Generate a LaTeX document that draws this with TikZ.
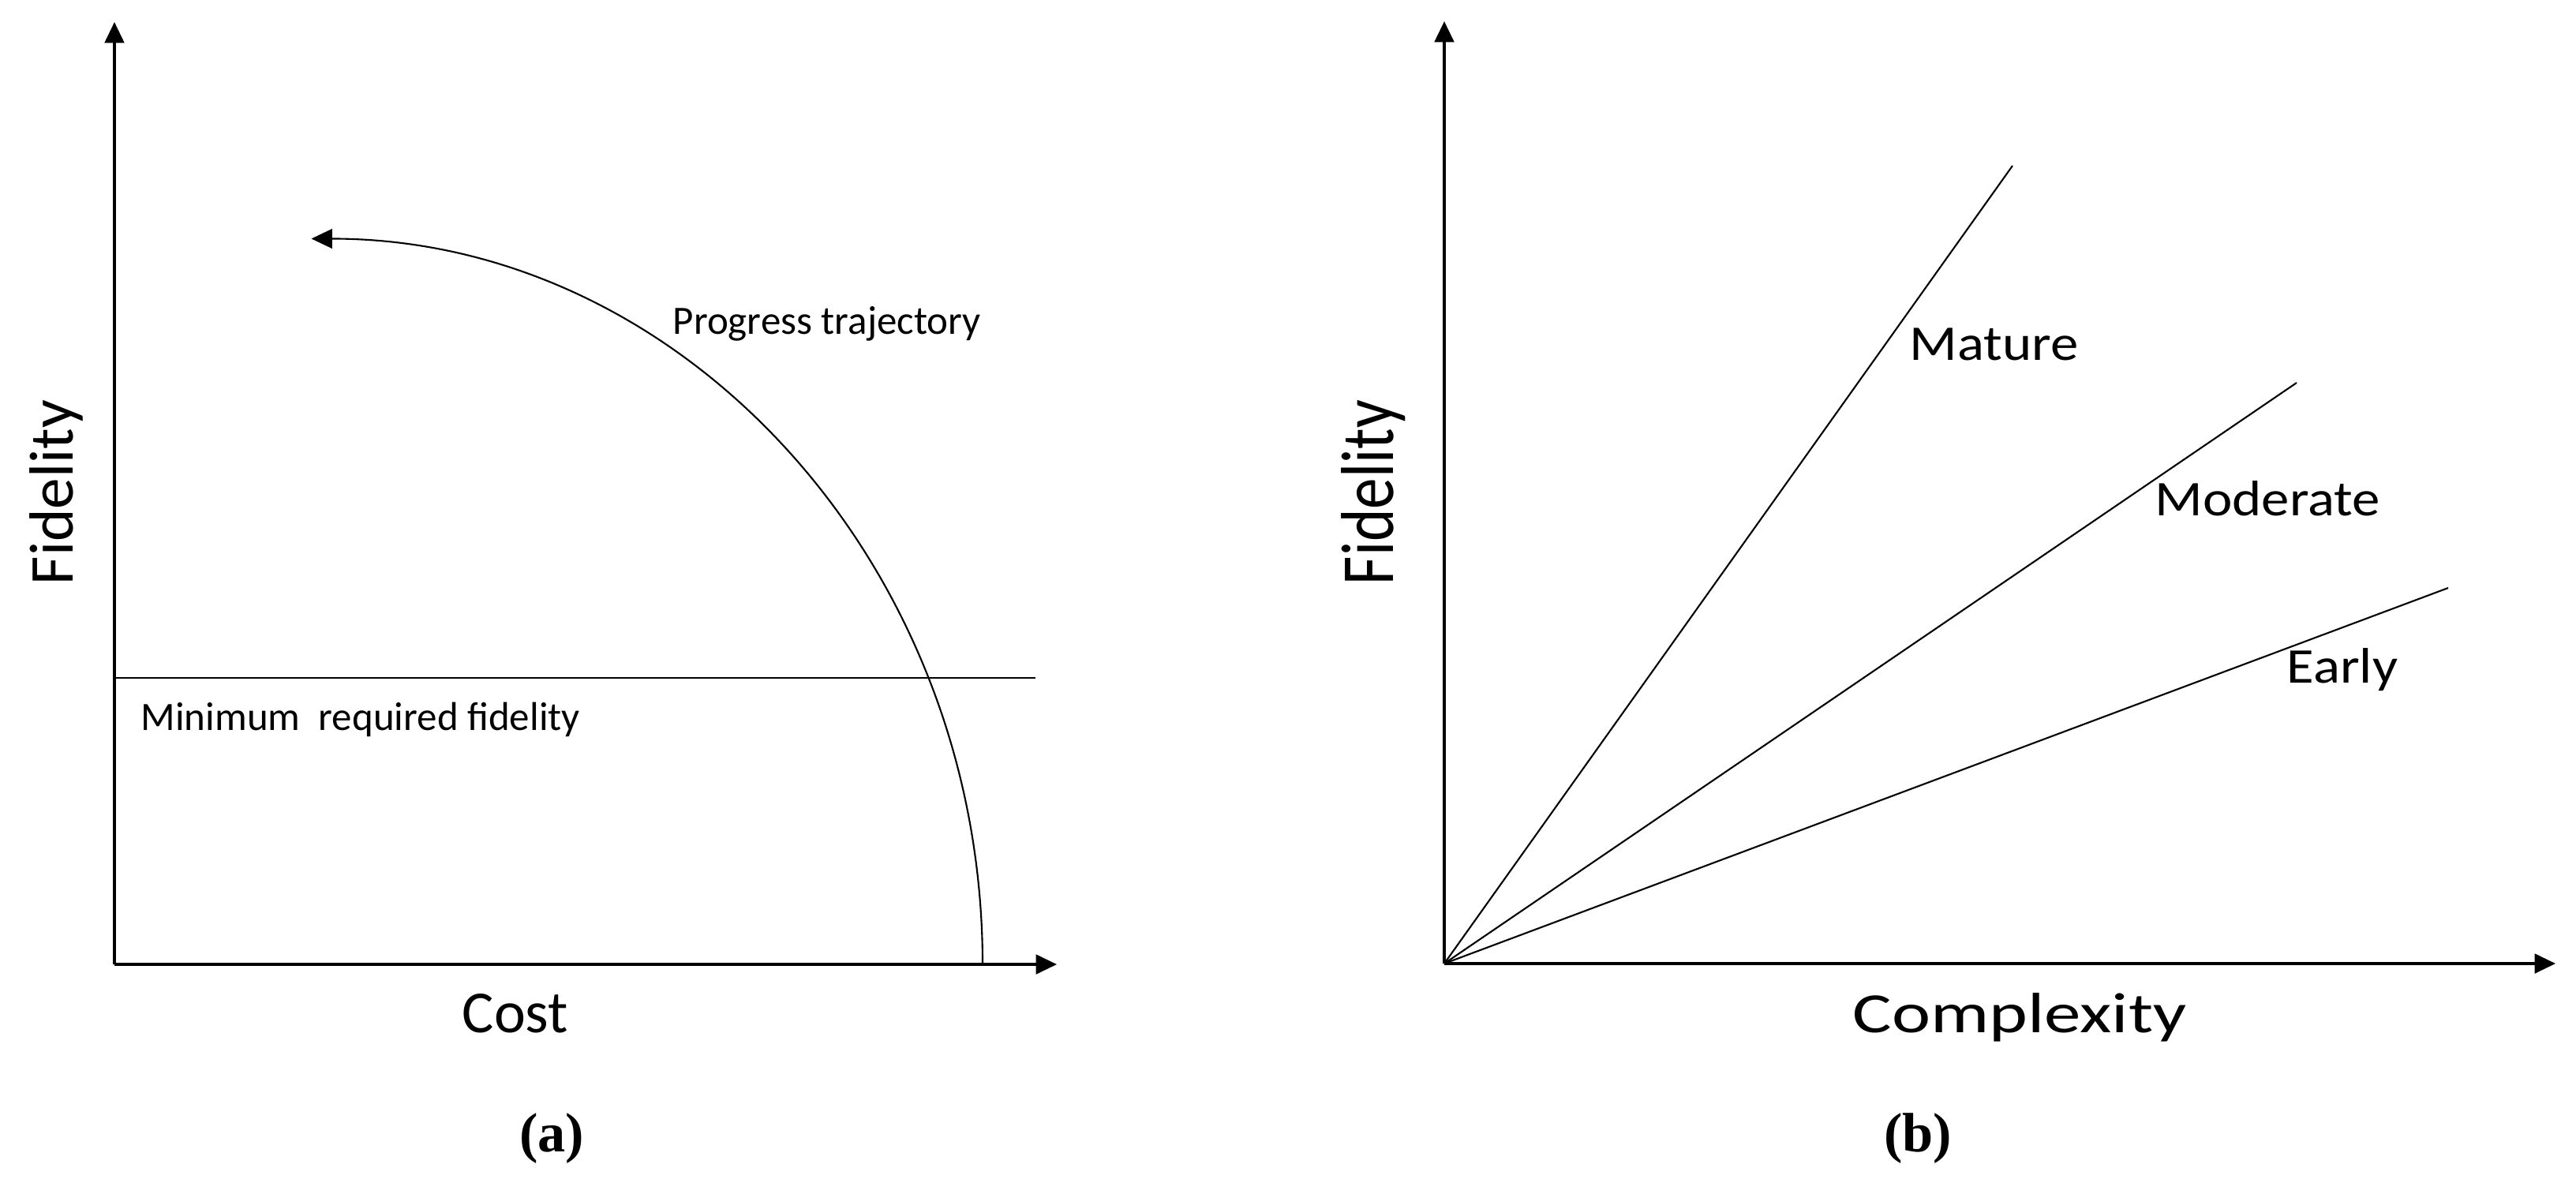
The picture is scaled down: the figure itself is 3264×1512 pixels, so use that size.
\documentclass[tikz,border=0pt]{standalone}
\usepackage{fontspec}
\setmainfont{Carlito}
\newfontfamily\capfont{Liberation Serif}
\usetikzlibrary{arrows.meta}
\begin{document}
\begin{tikzpicture}[x=0.01cm,y=-0.01cm,
  axis/.style={line width=0.95pt,-{Triangle[length=7.5pt,width=7pt]}},
  plotline/.style={line width=0.6pt},
  lbl/.style={inner sep=0pt,anchor=base west},
  small/.style={font=\fontsize{14.5}{17}\selectfont},
  axlbl/.style={font=\fontsize{21.5}{26}\selectfont},
  stage/.style={lbl,font=\fontsize{18}{22}\selectfont},
  sublabel/.style={inner sep=0pt,font=\capfont\bfseries\fontsize{20}{24}\selectfont}]
\useasboundingbox (0,0) rectangle (3264,1512);
% ---------- panel (a)
\coordinate (O1) at (145,1222);
\coordinate (Y1) at (145,28);
\coordinate (X1) at (1339,1222);
\draw[axis] (O1) -- (Y1);
\draw[axis] (O1) -- (X1);
\coordinate (H1) at (145,859);
\coordinate (H2) at (1312,859);
\draw[line width=0.8pt] (H1) -- (H2);
\coordinate (A0) at (1245,1222);
\draw[plotline,-{Triangle[length=7.5pt,width=7pt]}] (A0) arc[start angle=0,end angle=90,x radius=8.5cm,y radius=9.19cm];
\node[lbl,small] (pt) at (852,423) {Progress trajectory};
\node[lbl,small] (mrf) at (178,925) {Minimum\ \ required fidelity};
\node[lbl,axlbl] (cost) at (585,1308) {Cost};
\node[rotate=90,inner sep=0pt,font=\fontsize{22.5}{27}\selectfont] (fid1) at (71,624) {Fidelity};
\node[sublabel] (capa) at (699,1443) {(a)};
% ---------- panel (b)
\coordinate (O2) at (1830,1221);
\coordinate (Y2) at (1830,27);
\coordinate (X2) at (3238,1221);
\draw[axis] (O2) -- (Y2);
\draw[axis] (O2) -- (X2);
\coordinate (M) at (2550,210);
\coordinate (Mo) at (2910,485);
\coordinate (E) at (3102,745);
\draw[plotline] (O2) -- (M);
\draw[plotline] (O2) -- (Mo);
\draw[plotline] (O2) -- (E);
\node[stage] (lm) at (2419,456) {\scalebox{1.12}[1]{Mature}};
\node[stage] (lmo) at (2730,653) {\scalebox{1.12}[1]{Moderate}};
\node[stage] (le) at (2897,865) {\scalebox{1.12}[1]{Early}};
\node[lbl,font=\fontsize{20.5}{25}\selectfont] (cx) at (2347,1308) {\scalebox{1.29}[1]{Complexity}};
\node[rotate=90,inner sep=0pt,font=\fontsize{22.5}{27}\selectfont] (fid2) at (1740,624) {\scalebox{1}[1.2]{Fidelity}};
\node[sublabel] (capb) at (2430,1443) {(b)};
\end{tikzpicture}
\end{document}
